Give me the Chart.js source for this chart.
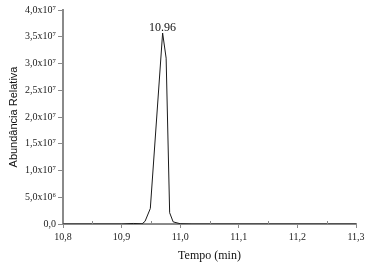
<!DOCTYPE html>
<html lang="pt">
<head>
<meta charset="UTF-8">
<title>Cromatograma</title>
<script src="https://cdn.jsdelivr.net/npm/chart.js"></script>
<style>
  body { margin: 0; background: #fff; }
</style>
</head>
<body>
<canvas id="grafico" width="369" height="266"></canvas>
<script>
const tempos = [10.80, 10.90, 10.92, 10.935, 10.940, 10.949, 10.970, 10.976, 10.982, 10.988, 11.000, 11.02, 11.30];
const abundancias = [0, 0, 0.01e7, 0.004e7, 0.05e7, 0.29e7, 3.57e7, 3.10e7, 0.21e7, 0.04e7, 0.005e7, 0, 0];
const picoRotulo = ["10.96"];

// rótulos dos eixos
const xTickLabels = ["10,8", "10,9", "11,0", "11,1", "11,2", "11,3"];
const yTickLabels = ["0,0", "5,0x10\u2076", "1,0x10\u2077", "1,5x10\u2077", "2,0x10\u2077",
                     "2,5x10\u2077", "3,0x10\u2077", "3,5x10\u2077", "4,0x10\u2077"];
const xMinor = [10.85, 10.95, 11.05, 11.15, 11.25];

const corEixo = '#8a8a8a';
const serif = 'Liberation Serif';

// rótulo do pico + marcas menores do eixo x
const extras = {
  id: 'extras',
  afterDatasetsDraw(chart) {
    const ctx = chart.ctx;
    const meta = chart.getDatasetMeta(0);
    let iMax = 0;
    abundancias.forEach((v, i) => { if (v > abundancias[iMax]) iMax = i; });
    const p = meta.data[iMax];
    ctx.save();
    ctx.fillStyle = '#111';
    ctx.font = '12px "' + serif + '"';
    ctx.textAlign = 'center';
    ctx.textBaseline = 'bottom';
    ctx.fillText(picoRotulo[0], p.x, p.y + 1);
    ctx.restore();
  },
  afterDraw(chart) {
    const ctx = chart.ctx;
    const xs = chart.scales.x;
    ctx.save();
    ctx.strokeStyle = corEixo;
    ctx.lineWidth = 1;
    xMinor.forEach(v => {
      const px = Math.round(xs.getPixelForValue(v)) + 0.5;
      ctx.beginPath();
      ctx.moveTo(px, xs.top);
      ctx.lineTo(px, xs.top - 3);
      ctx.stroke();
    });
    ctx.restore();
  }
};

const ctx = document.getElementById('grafico').getContext('2d');
new Chart(ctx, {
  type: 'line',
  data: {
    datasets: [{
      data: tempos.map((t, i) => ({ x: t, y: abundancias[i] })),
      borderColor: '#1a1a1a',
      borderWidth: 1,
      pointRadius: 0,
      tension: 0,
      fill: false
    }]
  },
  options: {
    responsive: false,
    animation: false,
    layout: { padding: { left: 0, top: 10, right: 13, bottom: 0 } },
    plugins: { legend: { display: false }, tooltip: { enabled: false } },
    scales: {
      x: {
        type: 'linear',
        min: 10.8,
        max: 11.3,
        afterFit(scale) { scale.height = 42; },
        border: { color: corEixo, width: 2 },
        grid: { drawOnChartArea: false, tickLength: 4, color: corEixo },
        ticks: {
          stepSize: 0.1,
          padding: 3,
          color: '#222',
          font: { family: serif, size: 10 },
          maxRotation: 0,
          callback: (v, i) => xTickLabels[i]
        },
        title: {
          display: true,
          text: 'Tempo (min)',
          color: '#111',
          font: { family: serif, size: 12 },
          padding: { top: 0, bottom: 3 }
        }
      },
      y: {
        min: 0,
        max: 4e7,
        afterFit(scale) { scale.width = 63; },
        border: { color: corEixo, width: 2 },
        grid: { drawOnChartArea: false, tickLength: 5, color: corEixo },
        ticks: {
          stepSize: 5e6,
          padding: 2,
          color: '#222',
          font: { family: serif, size: 10 },
          callback: (v, i) => yTickLabels[i]
        },
        title: {
          display: true,
          text: 'Abundância Relativa',
          color: '#111',
          font: { family: 'Liberation Sans', size: 11 },
          padding: { top: 7, bottom: 0 }
        }
      }
    }
  },
  plugins: [extras]
});
</script>
</body>
</html>
